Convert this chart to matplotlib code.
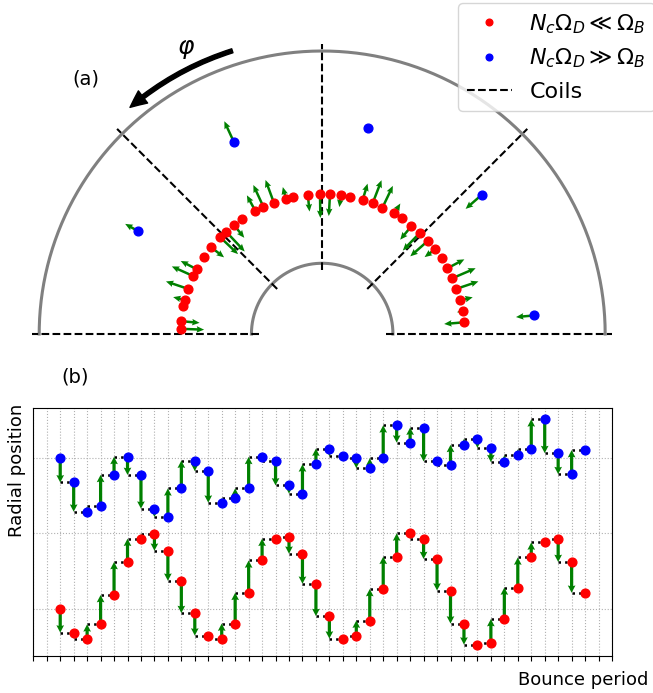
import numpy as np
import matplotlib
matplotlib.use("Agg")
import matplotlib.pyplot as plt
from matplotlib.patches import FancyArrowPatch
from matplotlib.lines import Line2D

# ---- panel (a): positions in the poloidal plane ----
# red particle: angle (deg), radius, radial kick
phi_red = [4.7, 9.2, 13.7, 18.6, 23.2, 27.7, 32.3, 36.9, 41.4, 46.0,
           50.4, 55.3, 59.1, 64.5, 68.9, 73.2, 78.4, 82.3, 86.8, 90.9,
           95.9, 101.9, 105.0, 110.2, 114.8, 118.5, 125.1, 129.0, 133.2, 136.5,
           142.0, 147.0, 152.7, 155.8, 161.4, 166.1, 168.6, 174.8, 177.9]
r_red = [2.01, 2.01, 2.01, 2.00, 2.00, 2.00, 2.00, 1.99, 1.99, 1.99,
         1.98, 1.99, 1.99, 1.98, 1.98, 1.98, 1.98, 1.98, 1.98, 1.98,
         1.98, 1.98, 1.98, 1.98, 1.98, 1.98, 1.98, 1.98, 1.98, 1.99,
         1.99, 1.99, 1.99, 2.00, 2.00, 2.00, 2.00, 2.00, 2.00]
dr_red = [-0.28, -0.08, 0.18, 0.33, 0.36, 0.27, 0.0, -0.18, -0.33, -0.35,
          -0.25, 0.0, 0.16, 0.34, 0.35, 0.24, 0.0, -0.17, -0.31, -0.34,
          -0.24, 0.0, 0.17, 0.34, 0.34, 0.25, 0.0, -0.23, -0.38, -0.35,
          -0.23, 0.0, 0.26, 0.33, 0.33, 0.17, 0.0, -0.26, -0.33]

# blue particle
phi_blue = [5.0, 41.1, 77.4, 114.7, 150.8]
r_blue = [3.01, 2.99, 2.99, 2.98, 2.99]
dr_blue = [-0.26, -0.30, 0.0, 0.33, 0.20]

coil_angles = [0, 45, 90, 135, 180]
r_inner, r_outer = 1.0, 4.0
r_coil = (0.9, 4.1)
phi_arrow = (107.6, 130.3)
r_arrow = 4.2

# ---- panel (b): radial position vs bounce period ----
bounce = np.arange(2, 42)
rb_red = [1.00, 0.68, 0.60, 0.79, 1.18, 1.62, 1.93, 1.99, 1.77, 1.37,
          0.94, 0.64, 0.60, 0.80, 1.21, 1.64, 1.93, 1.95, 1.73, 1.33,
          0.90, 0.60, 0.63, 0.84, 1.26, 1.69, 2.00, 1.93, 1.66, 1.24,
          0.80, 0.52, 0.54, 0.86, 1.28, 1.68, 1.88, 1.93, 1.62, 1.21]
rb_blue = [3.00, 2.68, 2.29, 2.36, 2.78, 3.02, 2.78, 2.33, 2.22, 2.60,
           2.97, 2.83, 2.41, 2.47, 2.60, 3.02, 2.97, 2.64, 2.53, 2.92,
           3.13, 3.03, 3.00, 2.87, 3.00, 3.44, 3.21, 3.41, 2.96, 2.91,
           3.18, 3.26, 3.14, 2.95, 3.04, 3.12, 3.52, 3.07, 2.79, 3.11]

fig = plt.figure(figsize=(6.53, 6.93), dpi=100)

# panel (a)
ax = fig.add_axes([0, 1 - 345 / 693, 1, 345 / 693])
ax.set_xlim(-4.554, 4.676)
ax.set_ylim(-0.1555, 4.721)
ax.axis("off")

t = np.linspace(0, np.pi, 400)
for rr in (r_inner, r_outer):
    ax.plot(rr * np.cos(t), rr * np.sin(t), color="gray", lw=2.2)

for a in coil_angles:
    c, s = np.cos(np.radians(a)), np.sin(np.radians(a))
    ax.plot([r_coil[0] * c, r_coil[1] * c], [r_coil[0] * s, r_coil[1] * s],
            "k--", lw=1.5)


def draw_particle(phi, r, dr, color):
    phi = np.radians(np.array(phi))
    r = np.array(r)
    dr = np.array(dr)
    x, y = r * np.cos(phi), r * np.sin(phi)
    m = dr != 0
    ax.quiver(x[m], y[m], (dr * np.cos(phi))[m], (dr * np.sin(phi))[m],
              angles="xy", scale_units="xy", scale=1, color="green",
              units="dots", width=2.5, headwidth=2.6, headlength=3,
              headaxislength=2.7, zorder=3)
    ax.plot(x, y, "o", color=color, ms=6.3, ls="none", zorder=4)


draw_particle(phi_red, r_red, dr_red, "red")
draw_particle(phi_blue, r_blue, dr_blue, "blue")

pa = np.radians(phi_arrow)
arr = FancyArrowPatch((r_arrow * np.cos(pa[0]), r_arrow * np.sin(pa[0])),
                      (r_arrow * np.cos(pa[1]), r_arrow * np.sin(pa[1])),
                      connectionstyle="arc3,rad=0.1",
                      arrowstyle="simple,head_length=0.6,head_width=0.55,tail_width=0.15",
                      mutation_scale=20, color="k", shrinkA=0, shrinkB=0)
ax.add_patch(arr)

handles = [Line2D([], [], marker="o", color="red", ls="none", ms=6),
           Line2D([], [], marker="o", color="blue", ls="none", ms=6),
           Line2D([], [], color="k", ls="--", lw=1.5)]
labels = [r"$N_c\Omega_D \ll \Omega_B$", r"$N_c\Omega_D \gg \Omega_B$", "Coils"]
ax.legend(handles, labels, loc="upper left", bbox_to_anchor=(458.3 / 653, 1 - 3.3 / 693),
          bbox_transform=fig.transFigure, borderaxespad=0, fontsize=16,
          markerscale=0.8)

fig.text(86 / 653, 1 - 79 / 693, "(a)", ha="center", va="center", fontsize=14)
fig.text(186.5 / 653, 1 - 49 / 693, r"$\varphi$", ha="center", va="center", fontsize=18)
fig.text(75 / 653, 1 - 376.7 / 693, "(b)", ha="center", va="center", fontsize=14)

# panel (b)
axb = fig.add_axes([33.3 / 653, 1 - 656.3 / 693, 578.7 / 653, 248.3 / 693])
for rb, col in ((rb_red, "red"), (rb_blue, "blue")):
    rb = np.array(rb)
    axb.hlines(rb[1:], bounce[:-1], bounce[1:], colors="k", linestyles=":",
               lw=1.8, zorder=2)
    axb.quiver(bounce[:-1], rb[:-1], np.zeros(len(rb) - 1), np.diff(rb),
               angles="xy", scale_units="xy", scale=1, color="green",
               units="dots", width=3.2, headwidth=2.4, headlength=2.3,
               headaxislength=2.1, zorder=3)
    axb.plot(bounce, rb, "o", color=col, ms=6.3, ls="none", zorder=4)

axb.set_xlim(0, 43)
axb.set_ylim(0.364, 3.671)
axb.set_xticks(np.arange(0, 44))
axb.set_xticklabels([])
axb.set_yticks([1, 2, 3])
axb.tick_params(axis="y", length=0, labelleft=False)
axb.grid(True, ls=":", color="#b0b0b0", lw=0.8)
axb.set_axisbelow(True)

axb.set_ylabel("Radial position", fontsize=13, va="baseline")
axb.yaxis.set_label_coords(-0.020, 0.75)
axb.set_xlabel("Bounce period", fontsize=13, ha="right", va="baseline")
axb.xaxis.set_label_coords(1.062, -0.1156)

fig.savefig("out.png", dpi=100)
